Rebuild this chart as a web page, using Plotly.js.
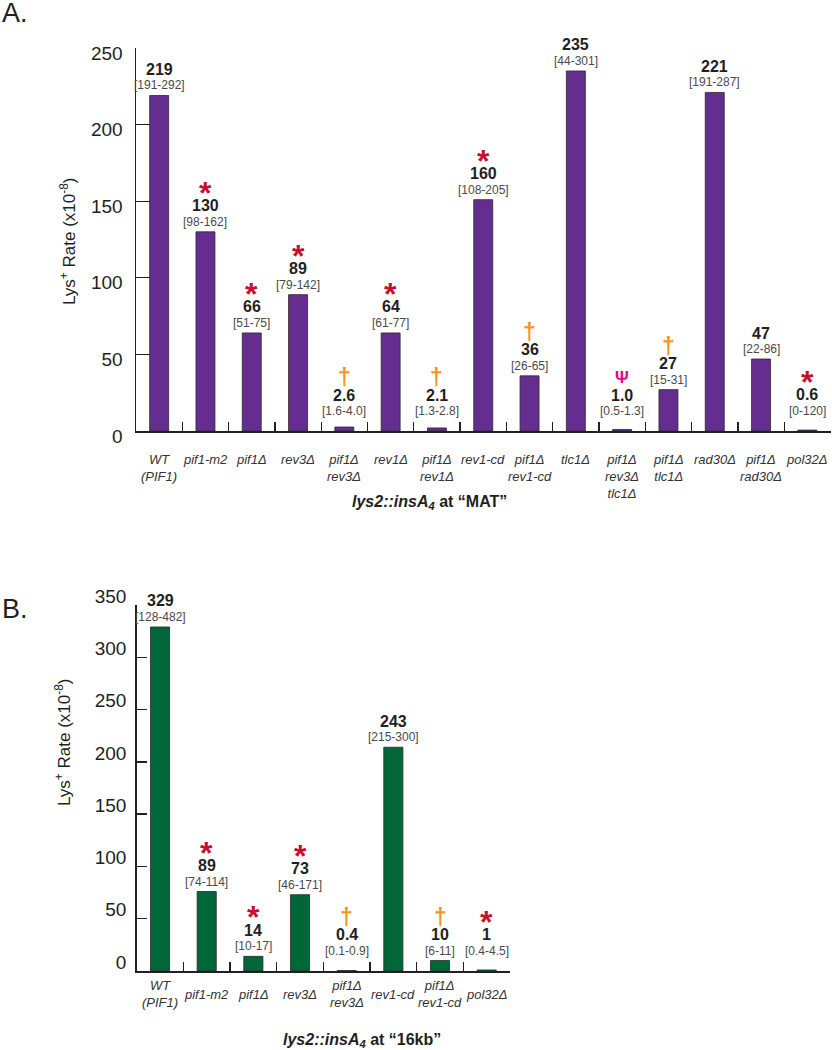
<!DOCTYPE html>
<html>
<head>
<meta charset="utf-8">
<script src="https://cdn.plot.ly/plotly-3.0.1.min.js"></script>
<style>html,body{margin:0;padding:0;background:#fff;}#chart{width:832px;height:1050px;}</style>
</head>
<body>
<div id="chart"></div>
<script>
// ---------- Panel A data: lys2::insA4 at "MAT" ----------
const catsA = ['WT (PIF1)', 'pif1-m2', 'pif1Δ', 'rev3Δ', 'pif1Δ rev3Δ', 'rev1Δ', 'pif1Δ rev1Δ', 'rev1-cd', 'pif1Δ rev1-cd', 'tlc1Δ', 'pif1Δ rev3Δ tlc1Δ', 'pif1Δ tlc1Δ', 'rad30Δ', 'pif1Δ rad30Δ', 'pol32Δ'];
const tickTextA = ['WT<br>(PIF1)', 'pif1-m2', 'pif1Δ', 'rev3Δ', 'pif1Δ<br>rev3Δ', 'rev1Δ', 'pif1Δ<br>rev1Δ', 'rev1-cd', 'pif1Δ<br>rev1-cd', 'tlc1Δ', 'pif1Δ<br>rev3Δ<br>tlc1Δ', 'pif1Δ<br>tlc1Δ', 'rad30Δ', 'pif1Δ<br>rad30Δ', 'pol32Δ'];
const valuesA = [219, 130, 64, 89, 2.6, 64, 2, 151, 36, 235, 1, 27, 221, 47, 0.6];
const rateTextA = ['219', '130', '66', '89', '2.6', '64', '2.1', '160', '36', '235', '1.0', '27', '221', '47', '0.6'];
const ciTextA = ['[191-292]', '[98-162]', '[51-75]', '[79-142]', '[1.6-4.0]', '[61-77]', '[1.3-2.8]', '[108-205]', '[26-65]', '[44-301]', '[0.5-1.3]', '[15-31]', '[191-287]', '[22-86]', '[0-120]'];
const markA = ['', '*', '*', '*', '†', '*', '†', '*', '†', '', 'Ψ', '†', '', '', '*'];
const yTicksA = [0, 50, 100, 150, 200, 250];

// ---------- Panel B data: lys2::insA4 at "16kb" ----------
const catsB = ['WT (PIF1)', 'pif1-m2', 'pif1Δ', 'rev3Δ', 'pif1Δ rev3Δ', 'rev1-cd', 'pif1Δ rev1-cd', 'pol32Δ'];
const tickTextB = ['WT<br>(PIF1)', 'pif1-m2', 'pif1Δ', 'rev3Δ', 'pif1Δ<br>rev3Δ', 'rev1-cd', 'pif1Δ<br>rev1-cd', 'pol32Δ'];
const valuesB = [329, 76, 14, 73, 0.4, 214, 10, 1];
const rateTextB = ['329', '89', '14', '73', '0.4', '243', '10', '1'];
const ciTextB = ['[128-482]', '[74-114]', '[10-17]', '[46-171]', '[0.1-0.9]', '[215-300]', '[6-11]', '[0.4-4.5]'];
const markB = ['', '*', '*', '*', '†', '', '†', '*'];
const yTicksB = [0, 50, 100, 150, 200, 250, 300, 350];

// ---------- styling ----------
const W = 832, H = 1050;
const FONT = 'Liberation Sans, Arial, Helvetica, sans-serif';
const INK = '#231f20';
const purple = '#662d91';
const green = '#006838';
const markStyle = {
  '*': {size: 32, color: '#c8102e', dy: -5, bold: true},
  '†': {size: 23, color: '#f7941d', dy: 0, bold: true},
  'Ψ': {size: 17, color: '#ec008c', dy: 0, bold: true}
};

const xDomA = [136 / W, 830.5 / W];
const yDomA = [(H - 431) / H, (H - 48) / H];
const xDomB = [136.7 / W, 510 / W];
const yDomB = [(H - 971) / H, (H - 605) / H];
const pxA = (yDomA[1] - yDomA[0]) * H / 250;
const pxB = (yDomB[1] - yDomB[0]) * H / 350;

const annotations = [];

function barLabels(xref, yref, cats, vals, rates, cis, marks, pxPerUnit) {
  cats.forEach((c, i) => {
    const h = vals[i] * pxPerUnit;
    const lift = Math.max(0, 10 - h);
    annotations.push({xref, yref, x: c, y: vals[i], yshift: 10 + lift, yanchor: 'middle',
      text: cis[i], showarrow: false, font: {family: FONT, size: 12, color: '#4a4a4a'}});
    annotations.push({xref, yref, x: c, y: vals[i], yshift: 26 + lift, yanchor: 'middle',
      text: '<b>' + rates[i] + '</b>', showarrow: false, font: {family: FONT, size: 16, color: INK}});
    if (marks[i]) {
      const s = markStyle[marks[i]];
      annotations.push({xref, yref, x: c, y: vals[i], yshift: 44 + lift + s.dy, yanchor: 'middle',
        text: s.bold ? '<b>' + marks[i] + '</b>' : marks[i], showarrow: false,
        font: {family: FONT, size: s.size, color: s.color}});
    }
  });
}

function catLabels(xref, yref, cats, texts, anchor, shift) {
  cats.forEach((c, i) => {
    annotations.push({xref, yref, x: c, y: 0, yshift: shift, yanchor: anchor, xanchor: 'center',
      text: '<i>' + texts[i] + '</i>', showarrow: false, align: 'center',
      font: {family: FONT, size: 13, color: '#333'}});
  });
}

barLabels('x', 'y', catsA, valuesA, rateTextA, ciTextA, markA, pxA);
barLabels('x2', 'y2', catsB, valuesB, rateTextB, ciTextB, markB, pxB);
catLabels('x', 'y', catsA, tickTextA, 'top', -19);
catLabels('x2', 'y2', catsB, tickTextB, 'middle', -23);

// panel letters, axis titles
annotations.push({xref: 'paper', yref: 'paper', x: 0, xanchor: 'left', y: 1 - 13 / H, yanchor: 'middle',
  text: 'A.', showarrow: false, font: {family: FONT, size: 27, color: INK}});
annotations.push({xref: 'paper', yref: 'paper', x: 0, xanchor: 'left', y: 1 - 609 / H, yanchor: 'middle',
  text: 'B.', showarrow: false, font: {family: FONT, size: 27, color: INK}});
annotations.push({xref: 'paper', yref: 'paper', x: 68 / W, xanchor: 'center', y: 1 - 242 / H, yanchor: 'middle',
  textangle: -90, text: 'Lys<sup>+</sup> Rate (x10<sup>-8</sup>)', showarrow: false, font: {family: FONT, size: 17, color: INK}});
annotations.push({xref: 'paper', yref: 'paper', x: 63 / W, xanchor: 'center', y: 1 - 742 / H, yanchor: 'middle',
  textangle: -90, text: 'Lys<sup>+</sup> Rate (x10<sup>-8</sup>)', showarrow: false, font: {family: FONT, size: 17, color: INK}});
annotations.push({xref: 'paper', yref: 'paper', x: 429 / W, xanchor: 'center', y: 1 - 502 / H, yanchor: 'middle',
  text: '<b><i>lys2::insA<sub>4</sub></i> at “MAT”</b>', showarrow: false, font: {family: FONT, size: 16, color: INK}});
annotations.push({xref: 'paper', yref: 'paper', x: 362 / W, xanchor: 'center', y: 1 - 1040 / H, yanchor: 'middle',
  text: '<b><i>lys2::insA<sub>4</sub></i> at “16kb”</b>', showarrow: false, font: {family: FONT, size: 16, color: INK}});

const barTraceA = {type: 'bar', x: catsA, y: valuesA, xaxis: 'x', yaxis: 'y',
  marker: {color: purple, line: {color: '#2a2a2a', width: 0.8}}, hoverinfo: 'skip'};
const barTraceB = {type: 'bar', x: catsB, y: valuesB, xaxis: 'x2', yaxis: 'y2',
  marker: {color: green, line: {color: '#2a2a2a', width: 0.8}}, hoverinfo: 'skip'};

const xCommon = {type: 'category', showline: true, linecolor: INK, linewidth: 1.5, ticks: 'inside',
  tickson: 'boundaries', ticklen: 9, tickwidth: 1.3, tickcolor: INK, showticklabels: false,
  showgrid: false, zeroline: false, fixedrange: true};
const yCommon = {showline: true, linecolor: INK, linewidth: 1.5, ticks: 'inside', tickwidth: 1.3,
  tickcolor: INK, showgrid: false, zeroline: false, fixedrange: true,
  tickfont: {family: FONT, size: 19, color: INK}};

const layout = {
  width: W, height: H, margin: {l: 0, r: 0, t: 0, b: 0},
  paper_bgcolor: '#fff', plot_bgcolor: 'rgba(0,0,0,0)', showlegend: false,
  bargap: 0.59,
  xaxis: Object.assign({}, xCommon, {domain: xDomA, anchor: 'y', range: [-0.5, catsA.length - 0.5]}),
  yaxis: Object.assign({}, yCommon, {domain: yDomA, anchor: 'x', range: [0, 250], tickvals: yTicksA,
    ticklen: 14, ticklabelstandoff: 8, ticklabelshift: 5}),
  xaxis2: Object.assign({}, xCommon, {domain: xDomB, anchor: 'y2', range: [-0.5, catsB.length - 0.5]}),
  yaxis2: Object.assign({}, yCommon, {domain: yDomB, anchor: 'x2', range: [0, 350], tickvals: yTicksB,
    ticklen: 10, ticklabelstandoff: 5, ticklabelshift: -9}),
  annotations: annotations
};

Plotly.newPlot('chart', [barTraceA, barTraceB], layout, {staticPlot: true, displayModeBar: false});
</script>
</body>
</html>
